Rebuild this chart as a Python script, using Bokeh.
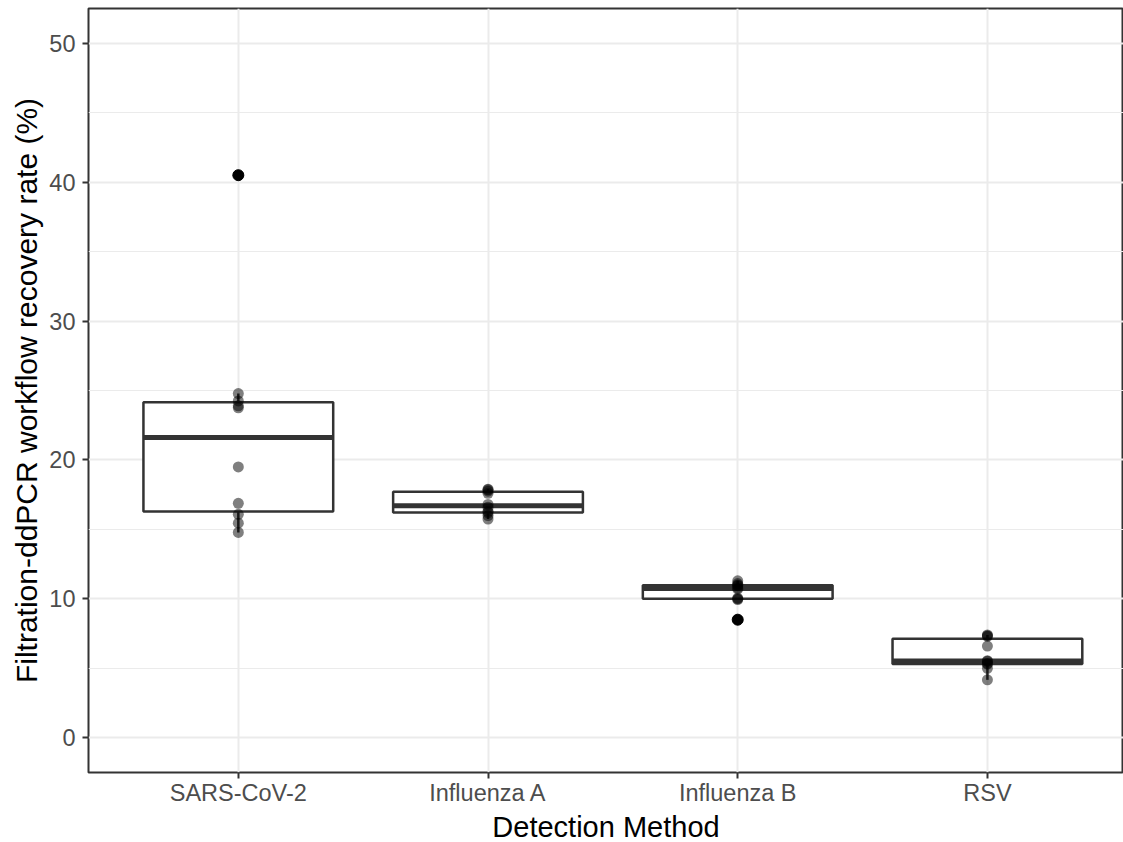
import numpy as np
from bokeh.plotting import figure
from bokeh.models import Range1d, FixedTicker, Title
from bokeh.embed import file_html
from bokeh.resources import INLINE

# ---------------- data ----------------
categories = ["SARS-CoV-2", "Influenza A", "Influenza B", "RSV"]
sars_cov_2 = [14.78, 15.45, 16.09, 16.88, 19.5, 23.75, 23.9, 24.25, 24.78, 40.5]
influenza_a = [15.75, 16.0, 16.2, 16.3, 16.6, 16.8, 17.6, 17.75, 17.85, 17.9]
influenza_b = [8.5, 9.95, 10.0, 10.05, 10.7, 10.8, 10.95, 11.0, 11.1, 11.3]
rsv = [4.17, 5.0, 5.3, 5.35, 5.5, 5.55, 6.6, 7.3, 7.35, 7.4]
y_ticks = [0, 10, 20, 30, 40, 50]
x_title = "Detection Method"
y_title = "Filtration-ddPCR workflow recovery rate (%)"

groups = [sars_cov_2, influenza_a, influenza_b, rsv]

# ---------------- box stats (ggplot style, type-7 quantiles) ----------------
xs = list(range(1, len(categories) + 1))
half_w = 0.38
box_l, box_r, q1s, q3s, meds = [], [], [], [], []
wx, wlo, whi = [], [], []
out_x, out_y = [], []
pt_x, pt_y = [], []
for x, vals in zip(xs, groups):
    a = np.array(vals, dtype=float)
    q1, med, q3 = np.percentile(a, [25, 50, 75])
    iqr = q3 - q1
    lo_f, hi_f = q1 - 1.5 * iqr, q3 + 1.5 * iqr
    inside = a[(a >= lo_f) & (a <= hi_f)]
    box_l.append(x - half_w); box_r.append(x + half_w)
    q1s.append(q1); q3s.append(q3); meds.append(med)
    wx += [x, x]; wlo += [inside.min(), q3]; whi += [q1, inside.max()]
    for v in a[(a < lo_f) | (a > hi_f)]:
        out_x.append(x); out_y.append(v)
    pt_x += [x] * len(a); pt_y += list(a)

minor = [(a + b) / 2 for a, b in zip(y_ticks[:-1], y_ticks[1:])]

# ---------------- figure ----------------
p = figure(width=1123, height=842, output_backend="svg", toolbar_location=None,
           x_range=Range1d(0.4, 4.545), y_range=Range1d(-2.5, 52.5),
           min_border_left=88, min_border_right=0, min_border_top=8, min_border_bottom=0)
p.background_fill_color = "white"
p.border_fill_color = "white"
p.outline_line_color = "#333333"
p.outline_line_width = 2

# grid
p.ygrid.ticker = FixedTicker(ticks=y_ticks, minor_ticks=minor)
p.ygrid.grid_line_color = "#EBEBEB"
p.ygrid.grid_line_width = 2
p.ygrid.minor_grid_line_color = "#EBEBEB"
p.ygrid.minor_grid_line_width = 1.2
p.xgrid.ticker = FixedTicker(ticks=xs)
p.xgrid.grid_line_color = "#EBEBEB"
p.xgrid.grid_line_width = 2

# axes
p.xaxis.ticker = FixedTicker(ticks=xs)
p.xaxis.major_label_overrides = {x: c for x, c in zip(xs, categories)}
p.yaxis.ticker = FixedTicker(ticks=y_ticks)
for ax in (p.xaxis[0], p.yaxis[0]):
    ax.axis_line_color = None
    ax.major_tick_line_color = "#333333"
    ax.major_tick_line_width = 2
    ax.major_tick_out = 6
    ax.major_tick_in = 0
    ax.minor_tick_line_color = None
    ax.major_label_text_font = "Liberation Sans"
    ax.major_label_text_font_size = "23.5px"
    ax.major_label_text_color = "#4D4D4D"
    ax.axis_label_text_font = "Liberation Sans"
    ax.axis_label_text_font_style = "normal"
    ax.axis_label_text_color = "black"
p.yaxis.axis_label_text_font_size = "30px"
p.yaxis.axis_label = y_title
p.xaxis.major_label_standoff = 1
p.yaxis.major_label_standoff = 7
p.yaxis.axis_label_standoff = 3

# x-axis title as a title panel below the axis
p.add_layout(Title(text=x_title, align="center", offset=5, standoff=0,
                   text_font="Liberation Sans", text_font_size="29px",
                   text_font_style="normal", text_color="black"), "below")

# whiskers
p.segment(x0=wx, y0=wlo, x1=wx, y1=whi, line_color="#333333", line_width=2.5)
# boxes
p.quad(left=box_l, right=box_r, bottom=q1s, top=q3s, fill_color="white",
       line_color="#333333", line_width=2.5)
# medians
p.segment(x0=box_l, y0=meds, x1=box_r, y1=meds, line_color="#333333", line_width=5)
# outliers
p.scatter(out_x, out_y, size=11, color="black")
# points
p.scatter(pt_x, pt_y, size=11, color="black", alpha=0.5, line_alpha=0)

open("out.html", "w").write(file_html(p, INLINE))
